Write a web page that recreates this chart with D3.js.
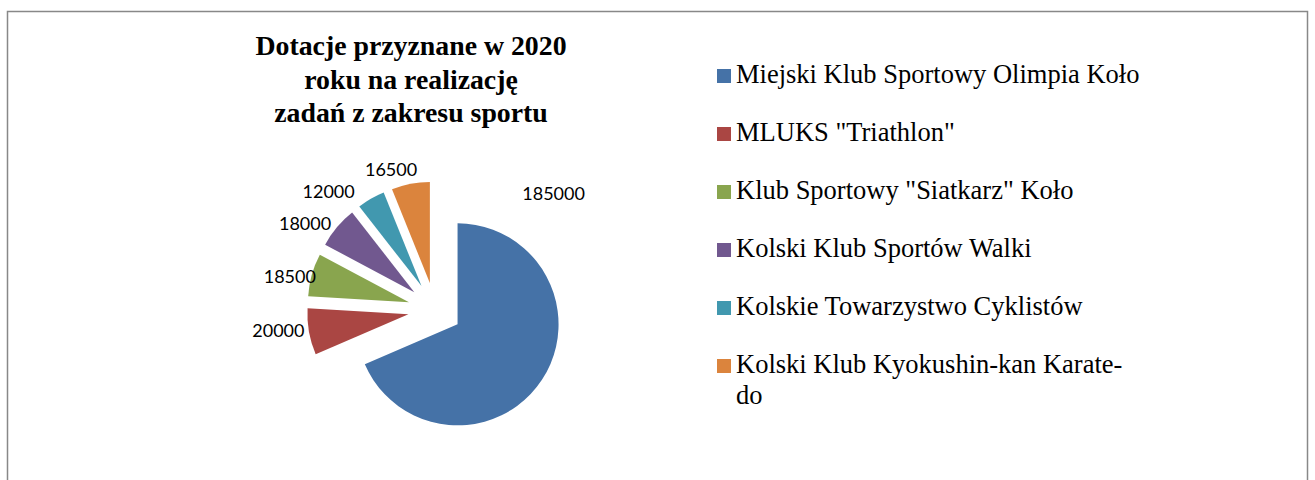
<!DOCTYPE html>
<html><head><meta charset="utf-8">
<script src="https://cdn.jsdelivr.net/npm/d3@7"></script>
<style>html,body{margin:0;padding:0;background:#fff;}svg{display:block;}</style>
</head><body>
<svg id="chart" width="1315" height="480"></svg>
<script>
const titleLines = ["Dotacje przyznane w 2020", "roku na realizację", "zadań z zakresu sportu"];
const categories = [
  "Miejski Klub Sportowy Olimpia Koło",
  "MLUKS \"Triathlon\"",
  "Klub Sportowy \"Siatkarz\" Koło",
  "Kolski Klub Sportów Walki",
  "Kolskie Towarzystwo Cyklistów",
  "Kolski Klub Kyokushin-kan Karate-do"
];
const values = [185000, 20000, 18500, 18000, 12000, 16500];
const colors = ["#4572A7", "#AA4643", "#89A54E", "#71588F", "#4198AF", "#DB843D"];

// layout (not data): label polar placement [angle deg clockwise from top, distance]
const labelPolar = [[45.6, 166], [262.5, 158], [283, 149], [303.6, 156], [318, 159], [342.6, 147]];

const svg = d3.select("#chart");
svg.append("rect").attr("x", 7.5).attr("y", 11.5).attr("width", 1300).attr("height", 490)
  .attr("fill", "#fff").attr("stroke", "#888").attr("stroke-width", 1.5);

const title = svg.append("text").attr("text-anchor", "middle")
  .attr("font-family", "'Liberation Serif', 'Times New Roman', serif")
  .attr("font-weight", "bold").attr("font-size", 27.8).attr("fill", "#000");
titleLines.forEach((t, i) => title.append("tspan").attr("x", 411).attr("y", 55 + i * 33.5).text(t));

const cx = 435, cy = 309.5, R = 101, explode = 27;
const pie = d3.pie().sort(null).value(d => d)(values);
const arc = d3.arc().innerRadius(0).outerRadius(R);
const g = svg.append("g").attr("transform", `translate(${cx},${cy})`);
g.selectAll("path").data(pie).join("path")
  .attr("d", arc)
  .attr("fill", (d, i) => colors[i])
  .attr("transform", d => {
    const m = (d.startAngle + d.endAngle) / 2;
    return `translate(${explode * Math.sin(m)},${-explode * Math.cos(m)})`;
  });

g.selectAll("text.lbl").data(pie).join("text").attr("class", "lbl")
  .attr("text-anchor", "middle").attr("dominant-baseline", "central")
  .attr("font-family", "Lato, 'Open Sans', sans-serif").attr("font-size", 18).attr("fill", "#000")
  .attr("x", (d, i) => labelPolar[i][1] * Math.sin(labelPolar[i][0] * Math.PI / 180))
  .attr("y", (d, i) => -labelPolar[i][1] * Math.cos(labelPolar[i][0] * Math.PI / 180))
  .text(d => d3.format("d")(d.data));

// legend
const leg = svg.append("g");
const maxW = 406;
categories.forEach((c, i) => {
  const y = 83 + i * 58;
  leg.append("rect").attr("x", 717).attr("y", y - 14).attr("width", 14).attr("height", 14).attr("fill", colors[i]);
  const t = leg.append("text").attr("font-family", "'Liberation Serif', 'Times New Roman', serif")
    .attr("font-size", 26.5).attr("fill", "#000");
  const tokens = c.split(/(?<=[\s-])/);
  let lines = [], cur = "";
  const probe = t.append("tspan");
  tokens.forEach(tok => {
    probe.text((cur + tok).trimEnd());
    if (cur && probe.node().getComputedTextLength() > maxW) { lines.push(cur.trimEnd()); cur = tok; }
    else cur += tok;
  });
  lines.push(cur.trimEnd());
  probe.remove();
  lines.forEach((l, k) => t.append("tspan").attr("x", 736).attr("y", y + k * 31).text(l));
});
</script>
</body></html>
